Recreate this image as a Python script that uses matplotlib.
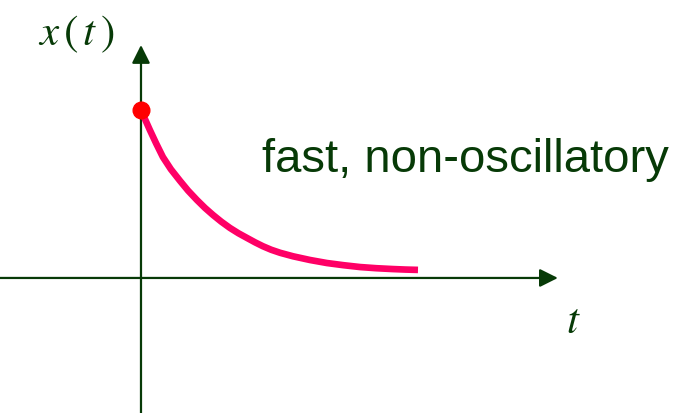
import matplotlib
matplotlib.use("Agg")
import matplotlib.pyplot as plt
import numpy as np

# response values (t normalised, x(0) = 1)
t_vals = [0.0, 0.016, 0.032, 0.055, 0.079, 0.108, 0.141, 0.170, 0.202,
          0.231, 0.260, 0.290, 0.321, 0.352, 0.383, 0.412, 0.440, 0.470,
          0.502, 0.549, 0.610, 0.671, 0.731, 0.791, 0.850, 0.910, 0.955, 1.0]
x_vals = [1.0, 0.94, 0.881, 0.80, 0.720, 0.647, 0.578, 0.520, 0.464,
          0.417, 0.375, 0.335, 0.298, 0.266, 0.238, 0.212, 0.189, 0.168,
          0.150, 0.129, 0.107, 0.089, 0.076, 0.065, 0.058, 0.053, 0.050, 0.048]

label_text = "fast, non-oscillatory"

green = "#073a07"
pink = "#ff0066"

plt.rcParams["mathtext.fontset"] = "stix"

fig = plt.figure(figsize=(6.9, 4.13), dpi=100)
ax = fig.add_axes([0, 0, 1, 1])
ax.set_xlim(-0.509, 1.982)
ax.set_ylim(-0.804, 1.655)
ax.axis("off")

# axes with arrow heads
arr = dict(arrowstyle="-|>,head_length=1.1,head_width=0.55", color=green,
           lw=1.6, shrinkA=0, shrinkB=0)
ax.annotate("", xy=(1.505, 0), xytext=(-0.509, 0), arrowprops=arr)
ax.annotate("", xy=(0, 1.387), xytext=(0, -0.804), arrowprops=arr)

ax.plot(t_vals, x_vals, color=pink, lw=4.8, solid_capstyle="butt",
        solid_joinstyle="round", zorder=3)
ax.plot(t_vals[0], x_vals[0], "o", color="#ff0000", ms=12, zorder=4)

ax.text(-0.235, 1.45, r"$x\,(\,t\,)$", color=green, fontsize=31,
        ha="center", va="center")
ax.text(1.56, -0.256, r"$t$", color=green, fontsize=31,
        ha="center", va="center")
ax.text(0.437, 0.631, label_text, color=green, fontsize=34,
        family="Liberation Sans", ha="left", va="baseline")

fig.savefig("out.png", dpi=100)
